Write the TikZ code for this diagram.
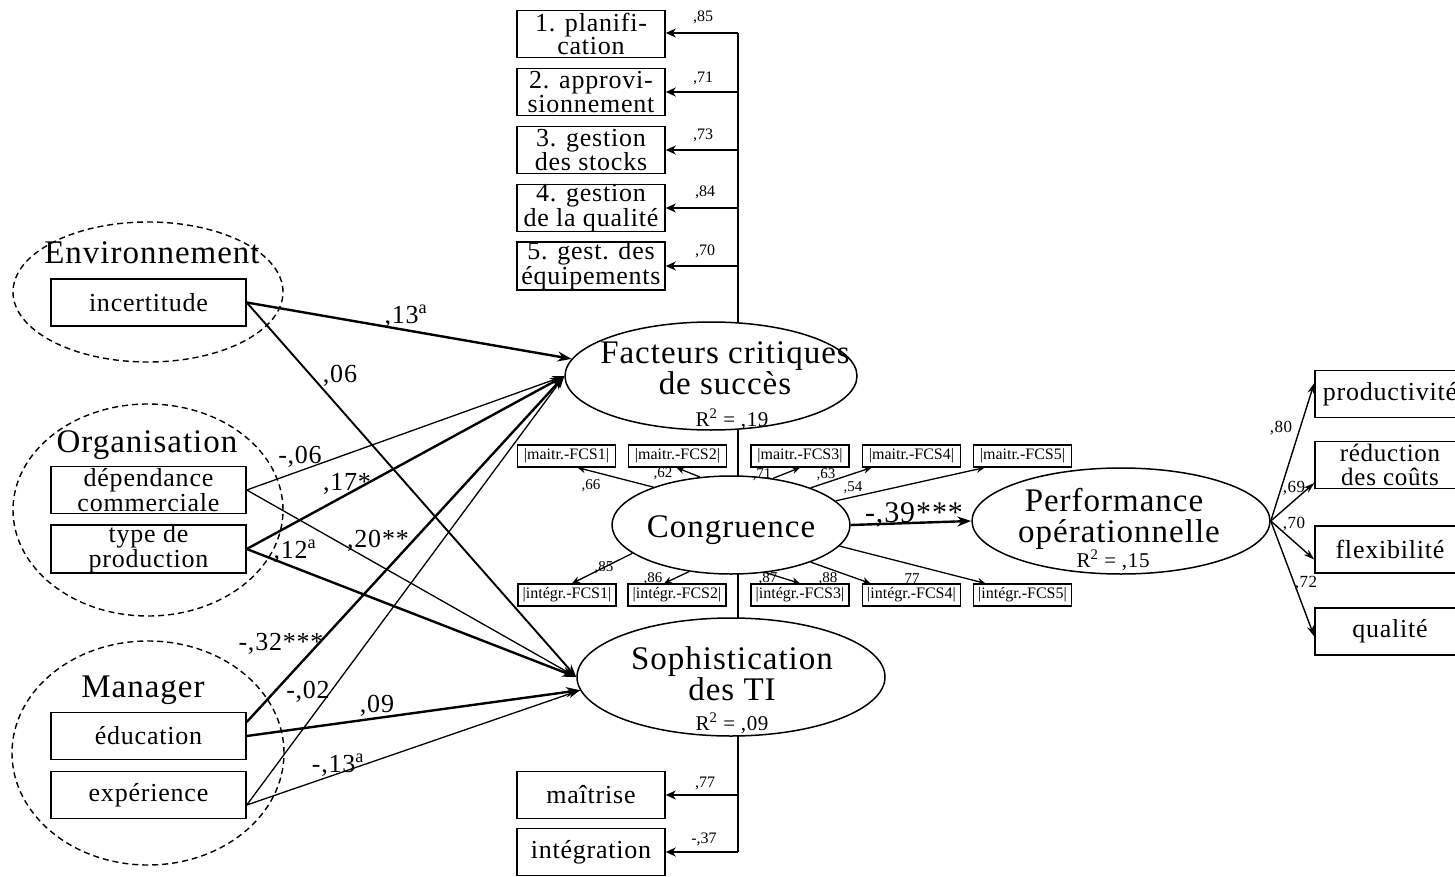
\documentclass[tikz,border=0pt]{standalone}
\usepackage{fontspec}
\setmainfont{Liberation Serif}[LetterSpace=3]
\usetikzlibrary{arrows.meta,shapes.geometric,calc}
\newcommand\ftBig{\fontsize{33}{28}\selectfont}
\newcommand\ftBox{\fontsize{26}{22}\selectfont}
\newcommand\ftBoxWide{\fontsize{25}{24}\selectfont}
\newcommand\ftCoef{\fontsize{26}{26}\selectfont}
\newcommand\ftStar{\fontsize{30}{30}\selectfont}
\newcommand\ftR{\fontsize{21}{21}\selectfont}
\newcommand\ftLoad{\fontsize{16}{16}\selectfont\addfontfeature{LetterSpace=0}}
\newcommand\ftTiny{\fontsize{16}{16}\selectfont\addfontfeature{LetterSpace=0}}
\newcommand\ftTinyL{\fontsize{15}{15}\selectfont\addfontfeature{LetterSpace=0}}
\begin{document}
\begin{tikzpicture}[x=1pt,y=-1pt,
  ind/.style={draw, line width=1.5pt, fill=white, minimum width=148pt, minimum height=47pt,
    inner sep=0pt, align=center, font=\ftBox},
  lbox/.style={ind, minimum width=195pt},
  rbox/.style={ind, minimum width=150pt},
  tbox/.style={draw, line width=1.2pt, fill=white, minimum width=98pt, minimum height=22pt,
    inner sep=0pt, font=\ftTiny},
  lat/.style={draw, ellipse, line width=1.5pt, fill=white, inner sep=0pt},
  grp/.style={draw, ellipse, dash pattern=on 6pt off 4pt, line width=1.4pt, inner sep=0pt},
  ttl/.style={font=\ftBig, anchor=base, inner sep=0pt},
  coef/.style={font=\ftCoef, anchor=base, inner sep=0pt},
  load/.style={font=\ftLoad, anchor=base, inner sep=0pt},
  rsq/.style={font=\ftR, anchor=base, inner sep=0pt},
  tl/.style={font=\ftTinyL, inner sep=0pt},
  thk/.style={line width=2.4pt, -{Stealth[length=14pt,width=10pt]}},
  med/.style={line width=1.9pt, -{Stealth[length=13pt,width=9pt]}},
  thn/.style={line width=1.3pt, -{Stealth[length=12pt,width=8pt]}},
  ia/.style={line width=1.6pt, -{Stealth[length=10pt,width=9pt,inset=3pt]}},
  ra/.style={line width=1.4pt, -{Stealth[length=11pt,width=7pt]}},
  sa/.style={line width=1.3pt, -{Stealth[length=8pt,width=7pt]}}]

\path[use as bounding box, fill=white] (0,0) rectangle (1455,877);

% vertical spine linking the two constructs with their indicators
\coordinate (sTop) at (738,33);
\coordinate (sBot) at (738,852);
\draw[line width=1.5pt] (sTop) -- (sBot);

% contextual groups (dashed)
\node[grp, minimum width=270pt, minimum height=140pt] (genv) at (148,292) {};
\node[grp, minimum width=270pt, minimum height=212pt] (gorg) at (148,510) {};
\node[grp, minimum width=272pt, minimum height=224pt] (gman) at (148,753) {};
\node[ttl] (tenv) at (152,263) {Environnement};
\node[ttl] (torg) at (147,452) {Organisation};
\node[ttl] (tman) at (143,697) {Manager};

% observed antecedents
\node[lbox] (inc) at (148.5,302.5) {incertitude};
\node[lbox] (dep) at (148.5,490) {dépendance\\commerciale};
\node[lbox] (typ) at (148.5,549) {type de\\production};
\node[lbox] (edu) at (148.5,736) {éducation};
\node[lbox] (exq) at (148.5,795) {expérience};

% indicators of the critical success factors
\node[ind] (p1) at (591,34) {1. planifi-\\cation};
\node[ind] (p2) at (591,92) {2. approvi-\\sionnement};
\node[ind] (p3) at (591,150) {3. gestion\\des stocks};
\node[ind] (p4) at (591,208) {4. gestion\\de la qualité};
\node[ind] (p5) at (591,266) {5. gest. des\\équipements};

% indicators of IT sophistication
\node[ind] (s1) at (591,795) {maîtrise};
\node[ind] (s2) at (591,852) {intégration};

% latent constructs
\node[lat, minimum width=292pt, minimum height=108pt] (fcs) at (711,376) {};
\node[ttl] (fcs1) at (725,363) {Facteurs critiques};
\node[ttl] (fcs2) at (725,394) {de succès};
\node[rsq] (fcsr) at (732,426) {R\textsuperscript{2} = ,19};

\node[lat, minimum width=238pt, minimum height=98pt] (cong) at (731,525) {};
\node[ttl] (cong1) at (731,537) {Congruence};

\node[lat, minimum width=298pt, minimum height=106pt] (perf) at (1121,521) {};
\node[ttl] (perf1) at (1114,511) {Performance};
\node[ttl] (perf2) at (1119,542) {opérationnelle};
\node[rsq] (perfr) at (1113,567) {R\textsuperscript{2} = ,15};

\node[lat, minimum width=308pt, minimum height=118pt] (soph) at (731,677) {};
\node[ttl] (soph1) at (732,669) {Sophistication};
\node[ttl] (soph2) at (732,700) {des TI};
\node[rsq] (sophr) at (732,730) {R\textsuperscript{2} = ,09};

% congruence components
\node[tbox] (m1) at (566.5,456) {|maitr.-FCS1|};
\node[tbox] (m2) at (677.5,456) {|maitr.-FCS2|};
\node[tbox] (m3) at (800,456) {|maitr.-FCS3|};
\node[tbox] (m4) at (911.5,456) {|maitr.-FCS4|};
\node[tbox] (m5) at (1022.5,456) {|maitr.-FCS5|};
\node[tbox] (i1) at (567,595) {|intégr.-FCS1|};
\node[tbox] (i2) at (677,595) {|intégr.-FCS2|};
\node[tbox] (i3) at (800,595) {|intégr.-FCS3|};
\node[tbox] (i4) at (911.5,595) {|intégr.-FCS4|};
\node[tbox] (i5) at (1022.5,595) {|intégr.-FCS5|};

% performance indicators
\node[rbox] (q1) at (1390,394) {productivité};
\node[rbox, font=\ftBoxWide] (q2) at (1390,465) {réduction\\des coûts};
\node[rbox] (q3) at (1390,549.5) {flexibilité};
\node[rbox] (q4) at (1390,631.5) {qualité};

% loadings of the success factors and of sophistication
\draw[ia] (sTop) -- (sTop -| p1.east);
\draw[ia] (p2.east -| sTop) -- (p2.east);
\draw[ia] (p3.east -| sTop) -- (p3.east);
\draw[ia] (p4.east -| sTop) -- (p4.east);
\draw[ia] (p5.east -| sTop) -- (p5.east);
\draw[ia] (s1.east -| sBot) -- (s1.east);
\draw[ia] (sBot) -- (s2.east);
\node[load] (lp1) at (703,22) {,85};
\node[load] (lp2) at (703,83) {,71};
\node[load] (lp3) at (703,140) {,73};
\node[load] (lp4) at (705,197) {,84};
\node[load] (lp5) at (705,255) {,70};
\node[load] (ls1) at (705,787) {,77};
\node[load] (ls2) at (704,843) {-,37};

% structural paths from the context variables
\draw[thk] (inc.east) -- (fcs.173);
\draw[med] (inc.east) -- (soph.west);
\draw[thn] (dep.east) -- (fcs.west);
\draw[thn] (dep.east) -- (soph.west);
\draw[thk] (typ.east) -- (fcs.west);
\draw[thk] (typ.east) -- (soph.west);
\draw[thk] ($(edu.east)+(0,-14)$) -- (fcs.west);
\draw[thk] (edu.east) -- (soph.185);
\draw[thn] ($(exq.east)+(0,10)$) -- (fcs.west);
\draw[thn] ($(exq.east)+(0,10)$) -- (soph.185);
\node[coef] (c1) at (406,323) {,13\textsuperscript{a}};
\node[coef] (c2) at (340,382) {,06};
\node[coef] (c3) at (300,463) {-,06};
\node[coef] (c4) at (347,490) {,17*};
\node[coef] (c5) at (378,547) {,20**};
\node[coef] (c6) at (295,558) {,12\textsuperscript{a}};
\node[coef] (c7) at (281,650) {-,32***};
\node[coef] (c8) at (308,698) {-,02};
\node[coef] (c9) at (377,712) {,09};
\node[coef] (c10) at (338,772) {-,13\textsuperscript{a}};

% congruence components
\draw[sa] (cong.154) -- ($(m1.south)+(11,0)$);
\draw[sa] (cong.123) -- ($(m2.south)+(-1,0)$);
\draw[sa] (cong.48) -- (m3.south);
\draw[sa] (cong.25) -- ($(m4.south)+(-40,0)$);
\draw[sa] (cong.13) -- ($(m5.south)+(-38,0)$);
\draw[sa] (cong.196) -- ($(i1.north)+(5,0)$);
\draw[sa] (cong.228) -- ($(i2.north)+(-13,0)$);
\draw[sa] (cong.306) -- (i3.north);
\draw[sa] (cong.335) -- ($(i4.north)+(-41,0)$);
\draw[sa] (cong.349) -- ($(i5.north)+(-37,0)$);
\node[tl] (k1) at (591,486) {,66};
\node[tl] (k2) at (663,474) {,62};
\node[tl] (k3) at (762,475) {,71};
\node[tl] (k4) at (826,475) {,63};
\node[tl] (k5) at (853,488) {,54};
\node[tl] (k6) at (604,568) {,85};
\node[tl] (k7) at (653,579) {,86};
\node[tl] (k8) at (768,579) {,87};
\node[tl] (k9) at (828,579) {,88};
\node[tl] (k10) at (912,579) {77};

% effect on performance
\draw[thk] (cong.east) -- (perf.west);
\node[coef, font=\ftStar] (c39) at (914,522) {-,39***};

% performance loadings
\draw[ra] (perf.east) -- ($(q1.west)+(0,-11)$);
\draw[ra] (perf.east) -- ($(q2.west)+(0,18)$);
\draw[ra] (perf.east) -- ($(q3.west)+(0,10)$);
\draw[ra] (perf.east) -- ($(q4.west)+(0,5)$);
\node[load, font=\fontsize{17}{17}\selectfont] (r1) at (1281,432) {,80};
\node[load, font=\fontsize{17}{17}\selectfont] (r2) at (1294,492) {,69};
\node[load, font=\fontsize{17}{17}\selectfont] (r3) at (1294,528) {,70};
\node[load, font=\fontsize{17}{17}\selectfont] (r4) at (1306,587) {,72};
\end{tikzpicture}
\end{document}
